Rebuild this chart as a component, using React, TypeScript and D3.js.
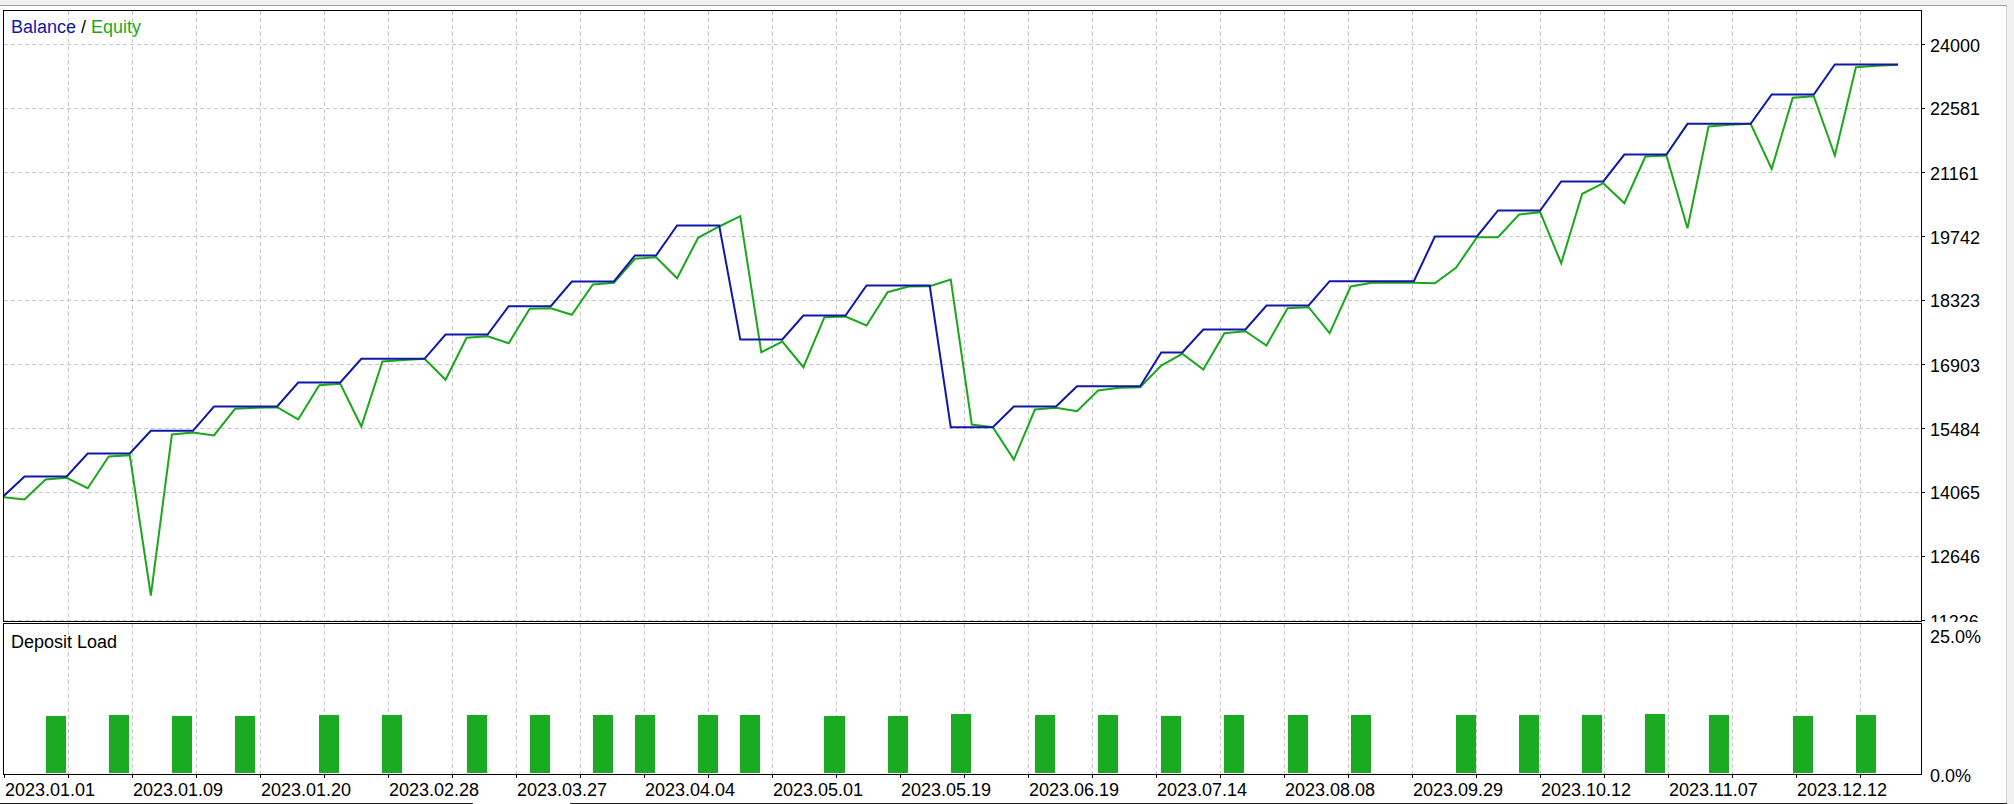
import React from "react";
import * as d3 from "d3";

// ---- data ----
const balance: number[] = [
  13983,
  14420, 14420, 14420,
  14930, 14930, 14930,
  15433, 15433, 15433,
  15972, 15972, 15972, 15972,
  16504, 16504, 16504,
  17030, 17030, 17030, 17030,
  17569, 17569, 17569,
  18196, 18196, 18196,
  18744, 18744, 18744,
  19321, 19321,
  19986, 19986, 19986,
  17458, 17458, 17458,
  17990, 17990, 17990,
  18655, 18655, 18655, 18655,
  15513, 15513, 15513,
  15972, 15972, 15972,
  16422, 16422, 16422, 16422,
  17169, 17169,
  17680, 17680, 17680,
  18212, 18212, 18212,
  18751, 18751, 18751, 18751, 18751,
  19742, 19742, 19742,
  20319, 20319, 20319,
  20962, 20962, 20962,
  21560, 21560, 21560,
  22241, 22241, 22241, 22241,
  22891, 22891, 22891,
  23556, 23556, 23556, 23556,
];

const equity: number[] = [
  13960, 13910, 14353, 14391, 14160, 14863, 14892, 11780, 15351, 15395,
  15329, 15921, 15943, 15957, 15684, 16444, 16475, 15528, 16970, 17003,
  17030, 16564, 17495, 17531, 17376, 18139, 18152, 18005, 18677, 18715,
  19247, 19283, 18817, 19713, 19964, 20192, 17176, 17413, 16843, 17952,
  17968, 17768, 18507, 18633, 18640, 18788, 15573, 15513, 14796, 15905,
  15943, 15868, 16327, 16387, 16400, 16881, 17141, 16792, 17597, 17642,
  17325, 18152, 18174, 17597, 18633, 18715, 18715, 18715, 18706, 19048,
  19726, 19726, 20230, 20281, 19150, 20689, 20924, 20480, 21516, 21538,
  19926, 22181, 22219, 22241, 21243, 22818, 22853, 21538, 23497, 23528,
  23550,
];

const loadDeals: number[] = [2, 5, 8, 11, 15, 18, 22, 25, 28, 30, 33, 35, 39, 42, 45, 49, 52, 55, 58, 61, 64, 69, 72, 75, 78, 81, 85, 88];
const loadValues: number[] = [9.6, 9.8, 9.6, 9.6, 9.8, 9.8, 9.8, 9.8, 9.8, 9.8, 9.8, 9.8, 9.6, 9.6, 10.0, 9.8, 9.8, 9.6, 9.8, 9.8, 9.8, 9.8, 9.8, 9.8, 10.0, 9.8, 9.6, 9.8];

const yTickValues: number[] = [24000, 22581, 21161, 19742, 18323, 16903, 15484, 14065, 12646, 11226];
const xTickLabels: string[] = [
  "2023.01.01", "2023.01.09", "2023.01.20", "2023.02.28", "2023.03.27",
  "2023.04.04", "2023.05.01", "2023.05.19", "2023.06.19", "2023.07.14",
  "2023.08.08", "2023.09.29", "2023.10.12", "2023.11.07", "2023.12.12",
];
const loadTickLabels: string[] = ["25.0%", "0.0%"];

// ---- layout ----
const W = 2014;
const H = 804;
const LEFT = 3;
const RIGHT = 1921;
const TOP = 10;
const MAIN_BOTTOM = 621;
const SUB_TOP = 623;
const SUB_BOTTOM = 774;
const GRID_STEP = 64;
const FONT = "'Liberation Sans', Arial, sans-serif";
const FS = 18;

const BLUE = "#1018a8";
const GREEN = "#1aa81a";
const BAR = "#1bab22";
const GRID = "#c8c8c8";

export default function App() {
  const x = d3.scaleLinear().domain([0, balance.length - 1]).range([3.5, 1898]);
  const y = d3.scaleLinear().domain([11226, 24000]).range([620.5, 44.5]);
  const yLoad = d3.scaleLinear().domain([0, 25]).range([SUB_BOTTOM, SUB_TOP]);

  const line = d3
    .line<number>()
    .x((_, i) => x(i))
    .y((d) => y(d));

  const gridX: number[] = [];
  for (let px = LEFT + 1 + GRID_STEP; px < RIGHT; px += GRID_STEP) gridX.push(px);
  const tickX: number[] = [LEFT + 1, ...gridX];

  return (
    <svg
      width={W}
      height={H}
      style={{ position: "absolute", left: 0, top: 0, background: "#ffffff" }}
      fontFamily={FONT}
      fontSize={FS}
    >
      <defs>
        <clipPath id="mainClip">
          <rect x={LEFT + 1} y={TOP + 1} width={RIGHT - LEFT - 1} height={MAIN_BOTTOM - TOP - 1} />
        </clipPath>
        <clipPath id="axisClip">
          <rect x={RIGHT + 1} y={0} width={90} height={MAIN_BOTTOM + 1} />
        </clipPath>
      </defs>

      {/* window chrome */}
      <rect x={0} y={0} width={W} height={5} fill="#f0f0f0" />
      <line x1={0} x2={2007} y1={5.5} y2={5.5} stroke="#a0a0a0" />
      <rect x={2007} y={0} width={W - 2007} height={H} fill="#f0f0f0" />
      <line x1={2006.5} x2={2006.5} y1={5} y2={803} stroke="#d4d4d4" />
      <line x1={0} x2={473} y1={803.5} y2={803.5} stroke="#202020" />
      <line x1={570} x2={2007} y1={803.5} y2={803.5} stroke="#202020" />

      {/* grid: main panel */}
      <g stroke={GRID} strokeDasharray="4,3" shapeRendering="crispEdges">
        {gridX.map((px) => (
          <line key={"gv" + px} x1={px + 0.5} x2={px + 0.5} y1={TOP + 1} y2={MAIN_BOTTOM} />
        ))}
        {yTickValues.map((v) => (
          <line key={"gh" + v} x1={LEFT + 1} x2={RIGHT} y1={Math.floor(y(v)) + 0.5} y2={Math.floor(y(v)) + 0.5} />
        ))}
        {gridX.map((px) => (
          <line key={"gs" + px} x1={px + 0.5} x2={px + 0.5} y1={SUB_TOP + 1} y2={SUB_BOTTOM} />
        ))}
      </g>

      {/* deposit load bars */}
      <g fill={BAR}>
        {loadDeals.map((d, i) => {
          const x0 = Math.round(x(d));
          const x1 = Math.round(x(d + 1)) - 1;
          const yt = Math.round(yLoad(loadValues[i]));
          return <rect key={"b" + i} x={x0} y={yt} width={x1 - x0} height={SUB_BOTTOM - 1 - yt} />;
        })}
      </g>

      {/* lines */}
      <g clipPath="url(#mainClip)" fill="none" strokeWidth={2} strokeLinejoin="miter">
        <path d={line(equity) || ""} stroke={GREEN} />
        <path d={line(balance) || ""} stroke={BLUE} />
      </g>

      {/* frames */}
      <g fill="none" stroke="#000" shapeRendering="crispEdges">
        <rect x={LEFT + 0.5} y={TOP + 0.5} width={RIGHT - LEFT} height={MAIN_BOTTOM - TOP} />
        <rect x={LEFT + 0.5} y={SUB_TOP + 0.5} width={RIGHT - LEFT} height={SUB_BOTTOM - SUB_TOP} />
      </g>

      {/* y axis ticks and labels */}
      <g shapeRendering="crispEdges" stroke="#000">
        {yTickValues.map((v) => (
          <line key={"yt" + v} x1={RIGHT + 1} x2={RIGHT + 4} y1={Math.floor(y(v)) + 0.5} y2={Math.floor(y(v)) + 0.5} />
        ))}
      </g>
      <g clipPath="url(#axisClip)" fill="#000">
        {yTickValues.map((v) => (
          <text key={"yl" + v} x={1930} y={y(v) + 7}>
            {String(v)}
          </text>
        ))}
      </g>

      {/* load axis labels */}
      <text x={1930} y={643} fill="#000">{loadTickLabels[0]}</text>
      <text x={1930} y={782} fill="#000">{loadTickLabels[1]}</text>

      {/* x axis ticks and labels */}
      <g shapeRendering="crispEdges" stroke="#000">
        {tickX.map((px) => (
          <line key={"xt" + px} x1={px + 0.5} x2={px + 0.5} y1={SUB_BOTTOM} y2={SUB_BOTTOM + 4} />
        ))}
      </g>
      <g fill="#000">
        {xTickLabels.map((lab, i) => (
          <text key={"xl" + i} x={tickX[i * 2] + 1} y={796}>
            {lab}
          </text>
        ))}
      </g>

      {/* titles */}
      <text x={11} y={33} fill="#000">
        <tspan fill={BLUE}>Balance</tspan>
        <tspan fill="#000"> / </tspan>
        <tspan fill={GREEN}>Equity</tspan>
      </text>
      <text x={11} y={648} fill="#000">Deposit Load</text>
    </svg>
  );
}
